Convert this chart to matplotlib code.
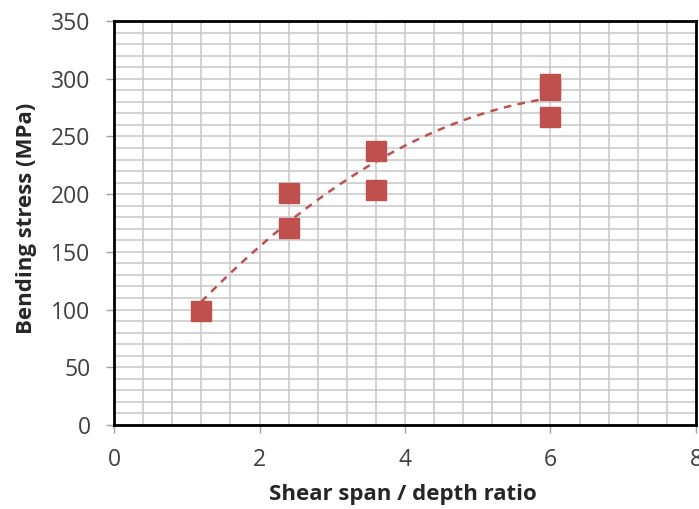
import numpy as np
import matplotlib
matplotlib.use("Agg")
import matplotlib.pyplot as plt
from matplotlib.ticker import MultipleLocator

plt.rcParams['font.family'] = ['Open Sans', 'DejaVu Sans']

# Data
shear_span_ratio = [1.2, 2.4, 2.4, 3.6, 3.6, 6.0, 6.0, 6.0]
bending_stress = [99, 201, 171, 237, 204, 295, 290, 267]

x_label = "Shear span / depth ratio"
y_label = "Bending stress (MPa)"

red = '#C0504D'
grid_col = '#C8C8C8'
tick_col = '#404040'

fig = plt.figure(figsize=(6.99, 5.09), dpi=100)
ax = fig.add_axes([114/699, 1 - 425/509, (696-114)/699, (425-21)/509])

ax.set_xlim(0, 8)
ax.set_ylim(0, 350)
ax.xaxis.set_major_locator(MultipleLocator(2))
ax.yaxis.set_major_locator(MultipleLocator(50))
ax.xaxis.set_minor_locator(MultipleLocator(0.4))
ax.yaxis.set_minor_locator(MultipleLocator(10))
ax.grid(True, which='both', color=grid_col, linewidth=1.1)
ax.set_axisbelow(True)

# Polynomial (order 2) trendline fitted from the data
coef = np.polyfit(shear_span_ratio, bending_stress, 2)
xs = np.linspace(min(shear_span_ratio), max(shear_span_ratio), 200)
ax.plot(xs, np.polyval(coef, xs), color=red, linewidth=1.8,
        linestyle=(0, (3, 2.6)), zorder=3)

ax.plot(shear_span_ratio, bending_stress, linestyle='none', marker='s',
        markersize=14, color=red, markeredgecolor=red, zorder=4)

for s in ax.spines.values():
    s.set_color('black')
    s.set_linewidth(2)

ax.tick_params(which='minor', length=0)
ax.tick_params(which='major', direction='out', length=5.8, width=1,
               color='#A0A0A0', labelsize=16.5, labelcolor=tick_col)
ax.tick_params(axis='y', pad=11)
ax.tick_params(axis='x', pad=10.5)

ax.set_xlabel(x_label, fontsize=16, fontweight='bold', color='#262626')
ax.set_ylabel(y_label, fontsize=16, fontweight='bold', color='#262626')
ax.xaxis.set_label_coords(0.497, -0.173)
ax.xaxis.label.set_va('center')
ax.yaxis.set_label_coords(-0.150, 0.511)
ax.yaxis.label.set_va('center')

fig.savefig('out.png', dpi=100)
